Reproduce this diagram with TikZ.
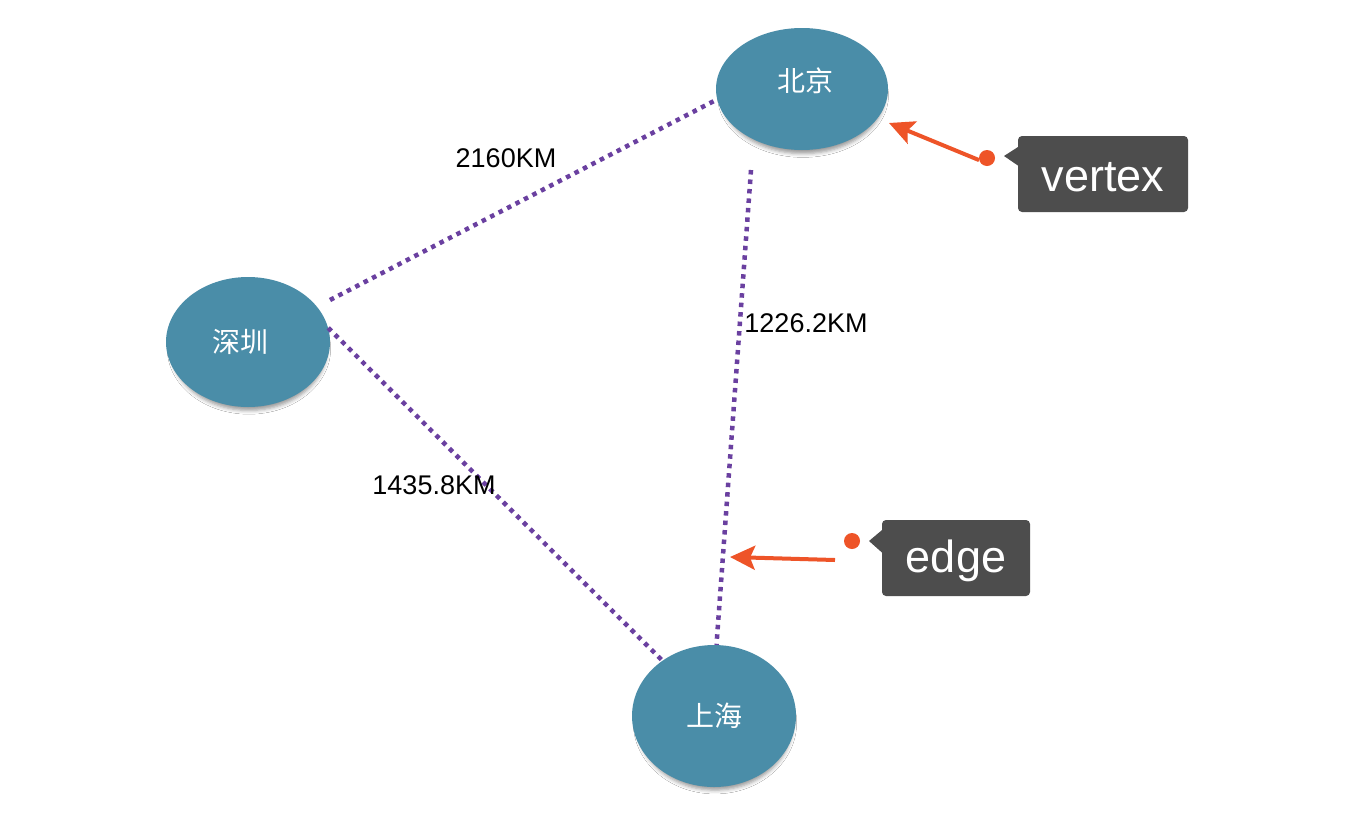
\documentclass[tikz,border=0pt]{standalone}
\usepackage{fontspec}
\setmainfont{Liberation Sans}
\newfontfamily\cjk{Noto Sans CJK SC}
\usetikzlibrary{shapes.geometric,arrows.meta,shadows.blur,calc}
\definecolor{city}{RGB}{74,141,168}
\definecolor{edgecol}{RGB}{106,64,160}
\definecolor{callout}{RGB}{77,77,77}
\definecolor{pointer}{RGB}{238,84,40}
\tikzset{
  citynode/.style={ellipse, fill=city, inner sep=0pt,
    blur shadow={shadow xshift=1pt, shadow yshift=-7pt, shadow scale=0.95, shadow blur radius=4pt, shadow opacity=40}},
  citytext/.style={text=white, font=\cjk\fontsize{28}{32}\selectfont, inner sep=0pt},
  roadline/.style={draw=edgecol, line width=4.5pt, dash pattern=on 4.5pt off 5pt},
  distlabel/.style={font=\fontsize{27}{32}\selectfont, text=black, inner sep=0pt},
  calloutbox/.style={fill=callout, rounded corners=4pt, text=white,
    font=\fontsize{45}{54}\selectfont, inner sep=0pt},
  calloutdot/.style={circle, fill=pointer, minimum size=16pt, inner sep=0pt},
  pointarrow/.style={draw=pointer, line width=4pt,
    -{Stealth[length=25pt, width=24pt, inset=5pt]}},
}
\begin{document}
\begin{tikzpicture}[x=1pt, y=-1pt]
\useasboundingbox (0,0) rectangle (1364,828);
\fill[white] (0,0) rectangle (1364,828);

% cities
\node[citynode, minimum width=172pt, minimum height=122pt] (bj) at (802,89) {};
\node[citynode, minimum width=164pt, minimum height=130pt] (sz) at (248,342) {};
\node[citynode, minimum width=164pt, minimum height=142pt] (sh) at (714,716) {};
\node[citytext] (bjt) at (805,81) {北京};
\node[citytext] (szt) at (240,342) {深圳};
\node[citytext] (sht) at (714,716) {上海};

% edges
\coordinate (szs) at (330,300);
\coordinate (bjs) at (751,170);
\draw[roadline] (szs) -- (bj.187.5);
\draw[roadline] (sz.10) -- (sh.133);
\draw[roadline] (bjs) -- (sh.88);

% distance labels
\node[distlabel] (l1) at (506,158) {2160KM};
\node[distlabel] (l2) at (806,323) {1226.2KM};
\node[distlabel] (l3) at (434,485) {1435.8KM};

% vertex callout
\node[calloutbox, minimum width=170pt, minimum height=76pt] (vbox) at (1103,174) {};
\node[text=white, font=\fontsize{45}{54}\selectfont, inner sep=0pt] (vtext) at (1103,177) {vertex};
\fill[callout] ($(vbox.north west)+(0.5,11)$) -- (1004,156) -- ($(vbox.north west)+(0.5,30)$) -- cycle;
\node[calloutdot] (vdot) at (987,158) {};
\coordinate (vtip) at (889,123);
\draw[pointarrow] (vdot.195) -- (vtip);

% edge callout
\node[calloutbox, minimum width=148pt, minimum height=76pt] (ebox) at (956,558) {};
\node[text=white, font=\fontsize{45}{54}\selectfont, inner sep=0pt] (etext) at (956,561) {edge};
\fill[callout] ($(ebox.north west)+(0.5,10)$) -- (869,541) -- ($(ebox.north west)+(0.5,33)$) -- cycle;
\node[calloutdot] (edot) at (852,541) {};
\coordinate (etail) at (835,560);
\coordinate (etip) at (730,557);
\draw[pointarrow] (etail) -- (etip);
\end{tikzpicture}
\end{document}
